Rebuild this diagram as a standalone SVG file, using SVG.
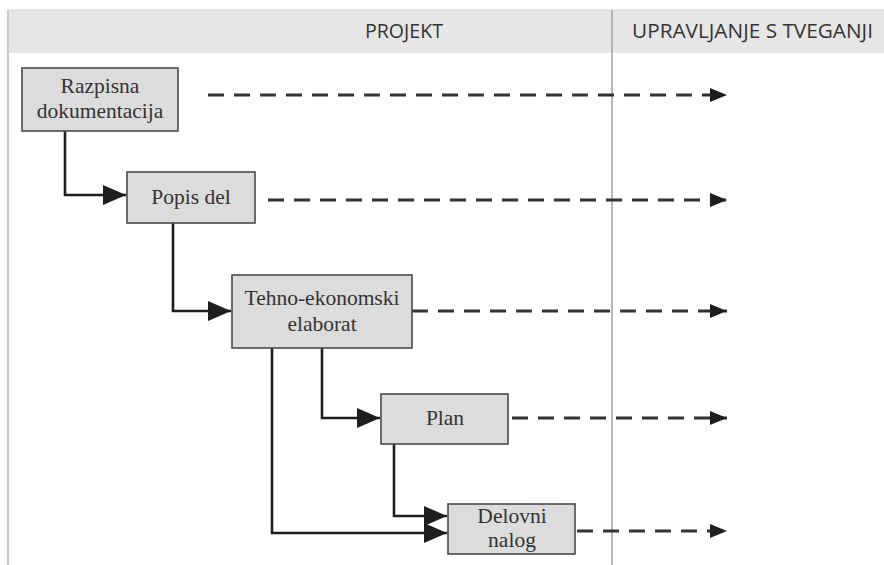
<svg xmlns="http://www.w3.org/2000/svg" width="884" height="565" viewBox="0 0 884 565">
<style>
.hdr{font-family:"Open Sans","Liberation Sans",sans-serif;font-size:20px;fill:#333}
.box rect{fill:#dcdcdc;stroke:#4a4a4a;stroke-width:1.6}
.box text{font-family:"Liberation Serif","Times New Roman",serif;font-size:21.5px;fill:#333;text-anchor:middle}
.solid{fill:none;stroke:#1e1e1e;stroke-width:2.6}
.dash{fill:none;stroke:#333;stroke-width:3;stroke-dasharray:16 10}
</style>
<defs>
<marker id="ah" viewBox="0 0 23 20" refX="23" refY="10" markerWidth="23" markerHeight="20" markerUnits="userSpaceOnUse" orient="auto">
<path d="M0,0 L23,10 L0,20 Z" fill="#1e1e1e"/>
</marker>
<marker id="ahd" viewBox="0 0 17 14" refX="17" refY="7" markerWidth="17" markerHeight="14" markerUnits="userSpaceOnUse" orient="auto">
<path d="M0,0 L17,7 L0,14 Z" fill="#1e1e1e"/>
</marker>
</defs>
<rect width="884" height="565" fill="#fff"/>
<g id="header">
<rect x="7" y="10" width="877" height="43" fill="#e6e6e6"/>
<line x1="7" y1="10" x2="884" y2="10" stroke="#d4d4d4" stroke-width="1"/>
<line x1="8" y1="10" x2="8" y2="565" stroke="#c8c8c8" stroke-width="2"/>
<line x1="612" y1="10" x2="612" y2="565" stroke="#a0a0a0" stroke-width="1.5"/>
<text class="hdr" x="365" y="38" textLength="78" lengthAdjust="spacingAndGlyphs">PROJEKT</text>
<text class="hdr" x="632" y="38" textLength="241" lengthAdjust="spacingAndGlyphs">UPRAVLJANJE S TVEGANJI</text>
</g>
<g id="connectors">
<path class="solid" d="M65,131 V195 H126" marker-end="url(#ah)"/>
<path class="solid" d="M173,223 V311 H231" marker-end="url(#ah)"/>
<path class="solid" d="M322,348 V418 H380" marker-end="url(#ah)"/>
<path class="solid" d="M394,444 V516 H447" marker-end="url(#ah)"/>
<path class="solid" d="M272,348 V533 H447" marker-end="url(#ah)"/>
<path class="dash" d="M208,95 H727" marker-end="url(#ahd)"/>
<path class="dash" d="M268,200 H727" marker-end="url(#ahd)"/>
<path class="dash" d="M412,311 H727" marker-end="url(#ahd)"/>
<path class="dash" d="M512,418 H727" marker-end="url(#ahd)"/>
<path class="dash" d="M577,531 H727" marker-end="url(#ahd)"/>
</g>
<g id="razpisna" class="box">
<rect x="22" y="68" width="156" height="63"/>
<text x="100" y="93">Razpisna</text>
<text x="100" y="118">dokumentacija</text>
</g>
<g id="popis" class="box">
<rect x="127" y="172" width="128" height="51"/>
<text x="191" y="204">Popis del</text>
</g>
<g id="tehno" class="box">
<rect x="232" y="275" width="180" height="73"/>
<text x="322" y="305">Tehno-ekonomski</text>
<text x="322" y="331">elaborat</text>
</g>
<g id="plan" class="box">
<rect x="381" y="394" width="127" height="50"/>
<text x="445" y="425">Plan</text>
</g>
<g id="delovni" class="box">
<rect x="448" y="504" width="127" height="50"/>
<text x="512" y="523">Delovni</text>
<text x="512" y="547">nalog</text>
</g>
</svg>
